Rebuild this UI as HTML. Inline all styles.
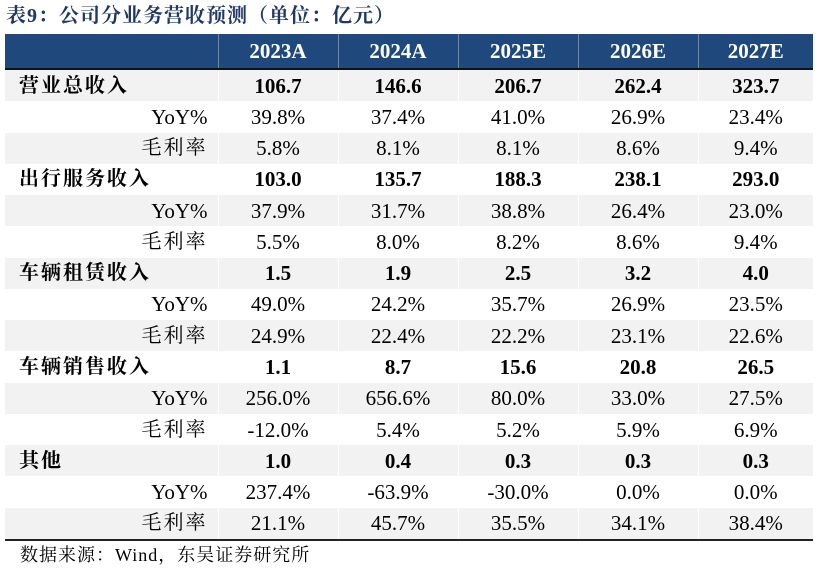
<!DOCTYPE html>
<html><head><meta charset="utf-8"><style>
body{margin:0;width:820px;height:572px;background:#fff;position:relative;overflow:hidden;font-family:"Liberation Serif","Noto Serif CJK SC",serif;}
.title{position:absolute;left:6px;top:3px;font-size:20px;line-height:26px;font-weight:bold;color:#1f3864;letter-spacing:1px;}
table{position:absolute;left:5px;top:34px;border-collapse:collapse;width:808px;table-layout:fixed;}
td{height:31.27px;padding:0;font-size:21px;line-height:22px;text-align:center;color:#000;border-left:1px solid #fff;vertical-align:middle;}
td:first-child{border-left:none;}
tr.h td{background:#1f497d;color:#fff;font-weight:bold;height:34px;border-left:1px solid #6f86a6;border-bottom:2px solid #111;}
tr.h td:first-child{border-left:none;}
tr:nth-child(even) td{background:#f2f2f2;}
tr.last td{border-bottom:2px solid #222;}
td.c{text-align:left;padding-left:14px;font-weight:bold;letter-spacing:2px;font-size:20px;}
td.s{text-align:right;padding-right:10px;}
td.s.z{font-size:20px;letter-spacing:2px;}
tr.b td{font-weight:bold;}
.foot{position:absolute;left:20px;top:544px;font-size:18px;line-height:22px;letter-spacing:1px;}
</style></head><body>
<div class="title">表9：公司分业务营收预测（单位：亿元）</div>
<table>
<colgroup><col style="width:213px"><col style="width:120px"><col style="width:120px"><col style="width:120px"><col style="width:120px"><col style="width:115px"></colgroup>
<tr class="h"><td></td><td>2023A</td><td>2024A</td><td>2025E</td><td>2026E</td><td>2027E</td></tr>
<tr class="b"><td class="c">营业总收入</td><td>106.7</td><td>146.6</td><td>206.7</td><td>262.4</td><td>323.7</td></tr>
<tr><td class="s">YoY%</td><td>39.8%</td><td>37.4%</td><td>41.0%</td><td>26.9%</td><td>23.4%</td></tr>
<tr><td class="s z">毛利率</td><td>5.8%</td><td>8.1%</td><td>8.1%</td><td>8.6%</td><td>9.4%</td></tr>
<tr class="b"><td class="c">出行服务收入</td><td>103.0</td><td>135.7</td><td>188.3</td><td>238.1</td><td>293.0</td></tr>
<tr><td class="s">YoY%</td><td>37.9%</td><td>31.7%</td><td>38.8%</td><td>26.4%</td><td>23.0%</td></tr>
<tr><td class="s z">毛利率</td><td>5.5%</td><td>8.0%</td><td>8.2%</td><td>8.6%</td><td>9.4%</td></tr>
<tr class="b"><td class="c">车辆租赁收入</td><td>1.5</td><td>1.9</td><td>2.5</td><td>3.2</td><td>4.0</td></tr>
<tr><td class="s">YoY%</td><td>49.0%</td><td>24.2%</td><td>35.7%</td><td>26.9%</td><td>23.5%</td></tr>
<tr><td class="s z">毛利率</td><td>24.9%</td><td>22.4%</td><td>22.2%</td><td>23.1%</td><td>22.6%</td></tr>
<tr class="b"><td class="c">车辆销售收入</td><td>1.1</td><td>8.7</td><td>15.6</td><td>20.8</td><td>26.5</td></tr>
<tr><td class="s">YoY%</td><td>256.0%</td><td>656.6%</td><td>80.0%</td><td>33.0%</td><td>27.5%</td></tr>
<tr><td class="s z">毛利率</td><td>-12.0%</td><td>5.4%</td><td>5.2%</td><td>5.9%</td><td>6.9%</td></tr>
<tr class="b"><td class="c">其他</td><td>1.0</td><td>0.4</td><td>0.3</td><td>0.3</td><td>0.3</td></tr>
<tr><td class="s">YoY%</td><td>237.4%</td><td>-63.9%</td><td>-30.0%</td><td>0.0%</td><td>0.0%</td></tr>
<tr class="last"><td class="s z">毛利率</td><td>21.1%</td><td>45.7%</td><td>35.5%</td><td>34.1%</td><td>38.4%</td></tr>
</table>
<div class="foot">数据来源：Wind，东吴证券研究所</div>
</body></html>
